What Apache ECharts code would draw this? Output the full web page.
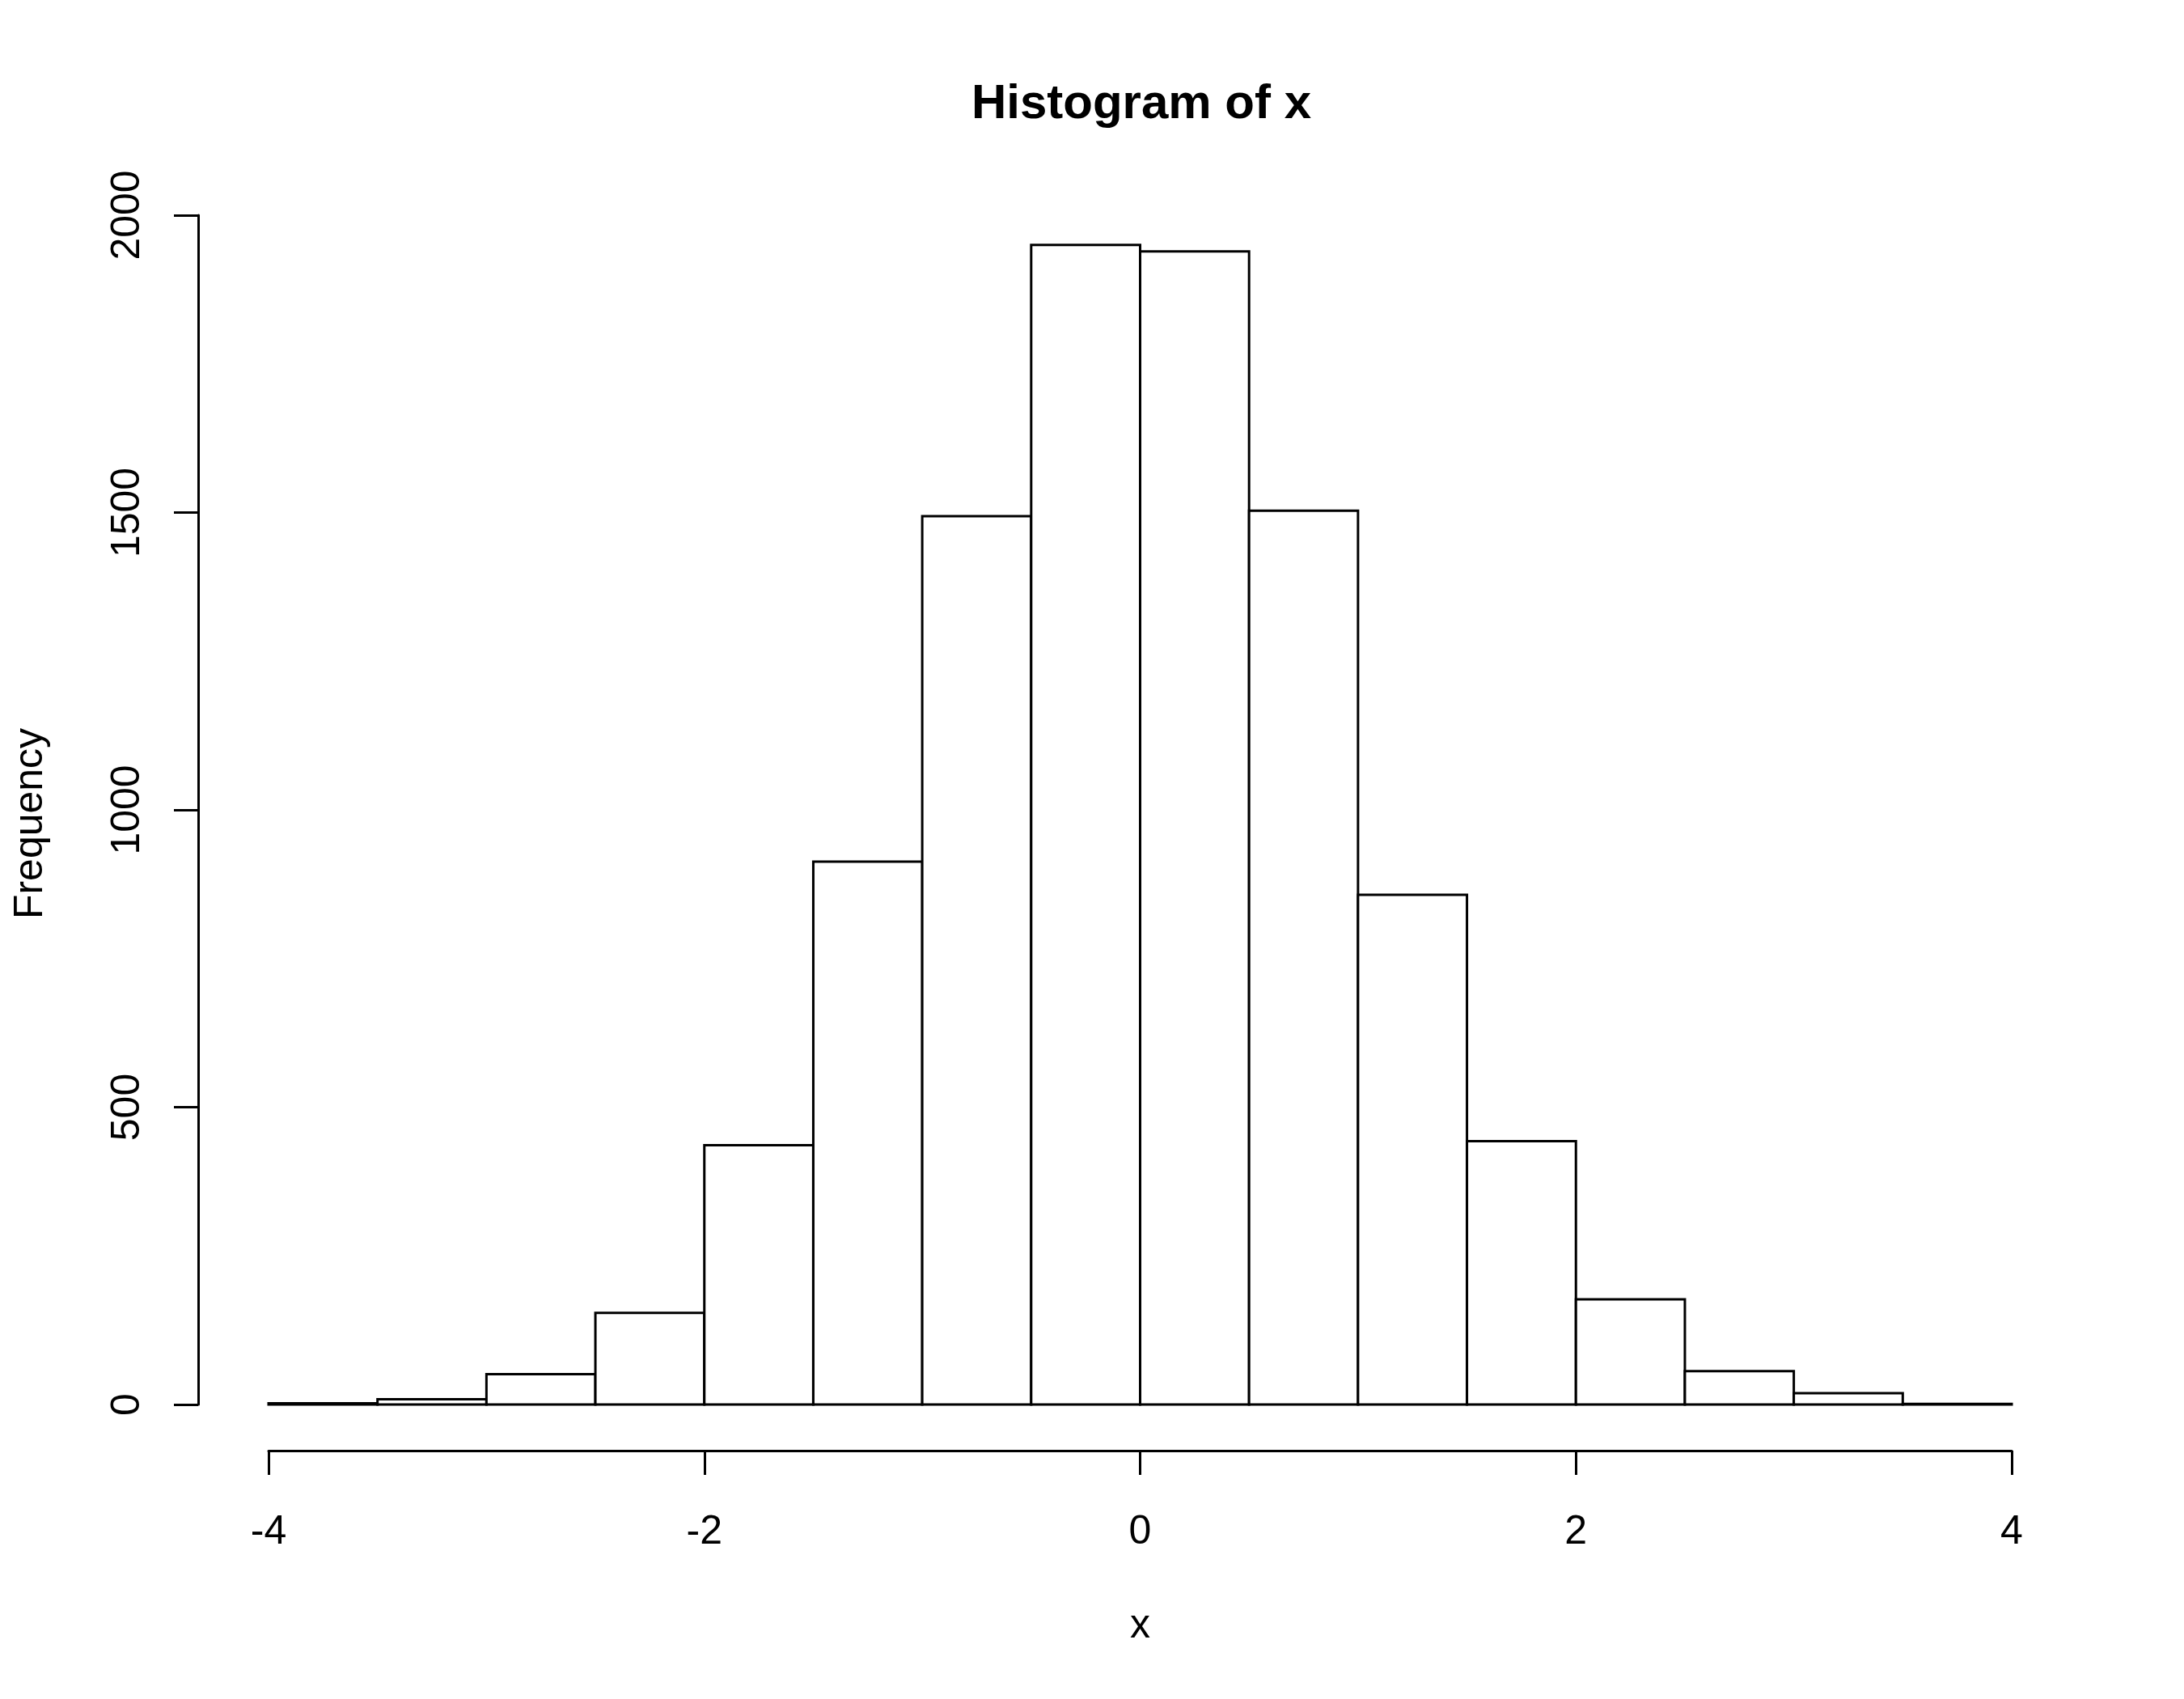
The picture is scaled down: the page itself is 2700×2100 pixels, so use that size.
<!DOCTYPE html>
<html>
<head>
<meta charset="utf-8">
<script src="https://cdn.jsdelivr.net/npm/echarts@6/dist/echarts.min.js"></script>
<style>
  html, body { margin: 0; padding: 0; background: #fff; }
  #chart { width: 2700px; height: 2100px; }
</style>
</head>
<body>
<div id="chart"></div>
<script>
// Bin edges (left, right) and counts
const binStarts = [-4, -3.5, -3, -2.5, -2, -1.5, -1, -0.5, 0, 0.5, 1, 1.5, 2, 2.5, 3, 3.5];
const binEnds   = [-3.5, -3, -2.5, -2, -1.5, -1, -0.5, 0, 0.5, 1, 1.5, 2, 2.5, 3, 3.5, 4];
const counts    = [2, 9, 51, 154, 436, 913, 1494, 1950, 1939, 1503, 857, 443, 177, 56, 19, 1];
const xTicks = [-4, -2, 0, 2, 4];
const yTicks = [0, 500, 1000, 1500, 2000];

const data = binStarts.map((s, i) => [s, binEnds[i], counts[i]]);
const FONT = '"Liberation Sans", Arial, Helvetica, sans-serif';
const plain = v => String(v);

const chart = echarts.init(document.getElementById('chart'), null, { renderer: 'canvas' });
chart.setOption({
  backgroundColor: '#ffffff',
  animation: false,
  title: {
    text: 'Histogram of x',
    left: 1406,
    top: 94,
    textAlign: 'center',
    textStyle: { fontFamily: FONT, fontSize: 60, fontWeight: 'bold', color: '#000' }
  },
  grid: { left: 332, right: 213, top: 266, bottom: 364, containLabel: false },
  xAxis: {
    type: 'value',
    min: xTicks[0],
    max: xTicks[xTicks.length - 1],
    interval: 2,
    offset: 57,
    name: 'x',
    nameLocation: 'middle',
    nameGap: 192,
    nameTextStyle: { fontFamily: FONT, fontSize: 50, color: '#000' },
    axisLine: { show: true, onZero: false, lineStyle: { color: '#000', width: 3 } },
    axisTick: { show: true, length: 30, lineStyle: { color: '#000', width: 3 } },
    axisLabel: { fontFamily: FONT, fontSize: 50, color: '#000', margin: 76, formatter: plain },
    splitLine: { show: false }
  },
  yAxis: {
    type: 'value',
    min: yTicks[0],
    max: yTicks[yTicks.length - 1],
    interval: 500,
    offset: 87,
    name: 'Frequency',
    nameLocation: 'middle',
    nameRotate: 90,
    nameGap: 182,
    nameTextStyle: { fontFamily: FONT, fontSize: 50, color: '#000', padding: [0, 34, 0, 0] },
    axisLine: { show: true, onZero: false, lineStyle: { color: '#000', width: 3 } },
    axisTick: { show: true, length: 30, lineStyle: { color: '#000', width: 3 } },
    axisLabel: { fontFamily: FONT, fontSize: 50, color: '#000', rotate: 90, margin: 62, formatter: plain },
    splitLine: { show: false }
  },
  series: [{
    type: 'custom',
    coordinateSystem: 'cartesian2d',
    data: data,
    encode: { x: [0, 1], y: 2 },
    clip: false,
    renderItem: function (params, api) {
      const p0 = api.coord([api.value(0), api.value(2)]);
      const p1 = api.coord([api.value(1), 0]);
      return {
        type: 'rect',
        shape: { x: p0[0], y: p0[1], width: p1[0] - p0[0], height: p1[1] - p0[1] },
        style: { fill: '#ffffff', stroke: '#000000', lineWidth: 3 }
      };
    }
  }]
});
</script>
</body>
</html>
